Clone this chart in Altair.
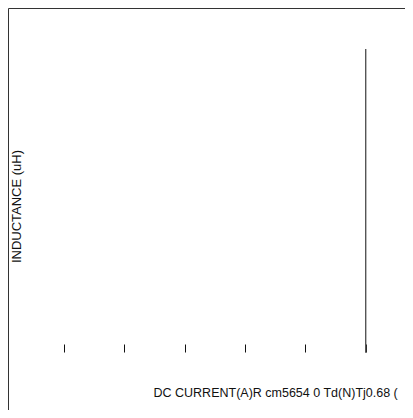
import altair as alt
import pandas as pd

# Tick positions along the DC current axis (A)
current_ticks = [0, 1, 2, 3, 4, 5]
# The single vertical trace: current value and inductance extent
line_current = [5, 5]
line_inductance = [0, 100]

x_title = "DC CURRENT(A)R cm5654 0 Td(N)Tj0.68 ("
y_title = "INDUCTANCE (uH)"

line_df = pd.DataFrame({"current": [line_current[0]],
                        "ind_lo": [line_inductance[0]],
                        "ind_hi": [line_inductance[1]]})

x_scale = alt.Scale(domain=[0, 5], range=[56, 357.7])
y_scale = alt.Scale(domain=[0, 100], range=[344.7, 41])

chart = alt.Chart(line_df).mark_rule(color="#555", strokeWidth=1.4).encode(
    x=alt.X("current:Q", scale=x_scale,
            axis=alt.Axis(values=current_ticks, labels=False, domain=False, grid=False,
                          ticks=True, tickSize=8, tickColor="#111", tickWidth=1,
                          offset=-66, title=x_title, titleX=145, titleY=52.3,
                          titleAlign="left", titleBaseline="alphabetic",
                          titleFontSize=12.5, titleFontWeight="normal", titleColor="#111",
                          titleFont="Liberation Sans")),
    y=alt.Y("ind_lo:Q", scale=y_scale,
            axis=alt.Axis(labels=False, domain=False, grid=False, ticks=False,
                          title=y_title, titleX=12.7, titleY=198, titleAngle=-90,
                          titleAlign="center", titleBaseline="alphabetic",
                          titleFontSize=13, titleFontWeight="normal", titleColor="#111",
                          titleFont="Liberation Sans")),
    y2="ind_hi:Q",
).properties(
    width=430, height=402,
    background="white",
    autosize=alt.AutoSizeParams(type="none"),
    padding={"left": 0, "top": 0, "right": -33, "bottom": 0},
).configure_view(
    stroke="#333", strokeWidth=1
).configure_axis(
    titleFont="Liberation Sans"
)

chart.save("out.html", embed_options={"renderer": "svg", "actions": False})
